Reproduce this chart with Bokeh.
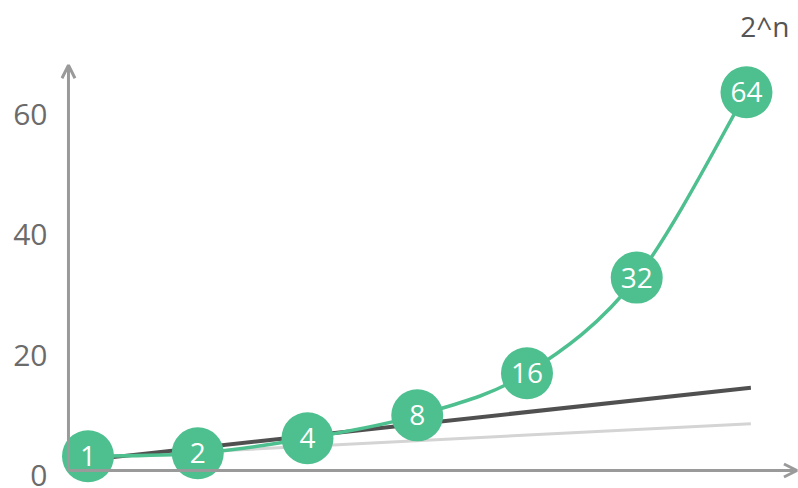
from bokeh.plotting import figure
from bokeh.models import Range1d, FixedTicker, Arrow, OpenHead, Label, ColumnDataSource
from bokeh.core.properties import value
from bokeh.embed import file_html
from bokeh.resources import INLINE

# ---- data ----
n_idx = [0, 1, 2, 3, 4, 5, 6]
point_labels = ["1", "2", "4", "8", "16", "32", "64"]
green_y = [3.2, 3.7, 6.2, 10.0, 17.0, 32.9, 63.7]
dark_x = [0, 6.04]
dark_y = [2.6, 14.6]
light_x = [0, 6.04]
light_y = [3.0, 8.6]
y_ticks = [0, 20, 40, 60]
title_text = "2^n"

GREEN = "#4ec08f"
AXIS = "#9a9a9a"

x0, x1 = -0.2506, 6.474
y0, y1 = -2.16, 78.97
axis_x = -0.178   # y-axis position (data units)
axis_y = 0.83     # x-axis position (data units)
y_arrow_top = 68.2
x_arrow_end = 6.46

p = figure(width=798, height=488, output_backend="svg", toolbar_location=None,
           x_range=Range1d(x0, x1), y_range=Range1d(y0, y1),
           min_border_left=60, min_border_right=0, min_border_top=0, min_border_bottom=0)
p.outline_line_color = None
p.grid.visible = False
p.xaxis.visible = False
p.background_fill_color = "white"
p.border_fill_color = "white"

ya = p.yaxis[0]
ya.ticker = FixedTicker(ticks=y_ticks)
ya.axis_line_color = None
ya.major_tick_line_color = None
ya.minor_tick_line_color = None
ya.major_tick_out = 0
ya.major_label_standoff = 13
ya.major_label_text_font = "Open Sans"
ya.major_label_text_font_size = "30px"
ya.major_label_text_color = "#6b6b6b"

# axes with arrows
p.add_layout(Arrow(end=OpenHead(size=13, line_width=3, line_color=AXIS),
                   x_start=axis_x, y_start=axis_y, x_end=axis_x, y_end=y_arrow_top,
                   line_width=3, line_color=AXIS))
p.add_layout(Arrow(end=OpenHead(size=13, line_width=3, line_color=AXIS),
                   x_start=axis_x, y_start=axis_y, x_end=x_arrow_end, y_end=axis_y,
                   line_width=3, line_color=AXIS))

# reference lines
p.line(light_x, light_y, line_width=3, line_color="#d4d4d4")
p.line(dark_x, dark_y, line_width=4, line_color="#505050")

# smooth green curve (Catmull-Rom -> cubic Bezier from the data points)
xs, ys = n_idx, green_y
n = len(xs)
bx0, by0, bx1, by1, cx0, cy0, cx1, cy1 = [], [], [], [], [], [], [], []
for i in range(n - 1):
    pxm, pym = (xs[i - 1], ys[i - 1]) if i > 0 else (xs[i], ys[i])
    px2, py2 = (xs[i + 2], ys[i + 2]) if i + 2 < n else (xs[i + 1], ys[i + 1])
    bx0.append(xs[i]); by0.append(ys[i])
    bx1.append(xs[i + 1]); by1.append(ys[i + 1])
    cx0.append(xs[i] + (xs[i + 1] - pxm) / 6.0)
    cy0.append(ys[i] + (ys[i + 1] - pym) / 6.0)
    cx1.append(xs[i + 1] - (px2 - xs[i]) / 6.0)
    cy1.append(ys[i + 1] - (py2 - ys[i]) / 6.0)
p.bezier(x0=bx0, y0=by0, x1=bx1, y1=by1, cx0=cx0, cy0=cy0, cx1=cx1, cy1=cy1,
         line_color=GREEN, line_width=3.5)

src = ColumnDataSource(dict(x=n_idx, y=green_y, lab=point_labels))
p.scatter("x", "y", source=src, size=52, fill_color=GREEN, line_color=None)
p.text("x", "y", text="lab", source=src, text_align="center", text_baseline="middle",
       text_color="white", text_font=value("Open Sans"), text_font_size="28px")

p.add_layout(Label(x=x1, y=y1, x_offset=-9, y_offset=-25, text=title_text,
                   text_align="right", text_baseline="middle",
                   text_font="Open Sans", text_font_size="28px", text_color="#555555"))

open("out.html", "w").write(file_html(p, INLINE))
